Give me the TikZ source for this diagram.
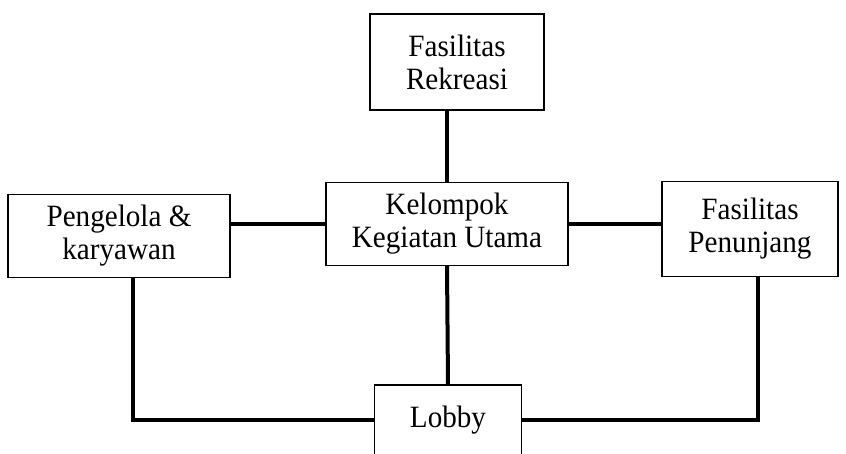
\documentclass[tikz,border=0pt]{standalone}
\usepackage{fontspec}
\setmainfont{Liberation Serif}[FakeStretch=0.94]
\usetikzlibrary{positioning, calc}

\tikzset{
  blok/.style={draw, line width=1.3pt, align=center, inner sep=0pt,
    font=\fontsize{31}{33}\selectfont},
  hub/.style={line width=4pt}
}

\begin{document}
\begin{tikzpicture}[x=1pt, y=1pt]
\useasboundingbox (0,0) rectangle (846,-453);
% Blok ruang
\node[blok, minimum width=174, minimum height=96] (rekreasi) at (457,-62) {Fasilitas\\Rekreasi};
\node[blok, minimum width=242, minimum height=83] (utama) at (447,-224) {Kelompok\\Kegiatan Utama};
\node[blok, minimum width=222, minimum height=83] (pengelola) at (119,-236) {Pengelola \&\\karyawan};
\node[blok, minimum width=176, minimum height=95] (penunjang) at (750,-229) {Fasilitas\\Penunjang};
\node[blok, minimum width=147, minimum height=70] (lobby) at (448,-420) {Lobby};
% Hubungan
\draw[hub] (utama.north) -- (utama.north |- rekreasi.south);
\draw[hub] (utama.west) -- (utama.west -| pengelola.east);
\draw[hub] (utama.east) -- (utama.east -| penunjang.west);
\draw[hub] (utama.south) -- (lobby.north);
\draw[hub] ([xshift=14pt]pengelola.south) |- (lobby.west);
\draw[hub] ([xshift=8pt]penunjang.south) |- (lobby.east);
\end{tikzpicture}
\end{document}
